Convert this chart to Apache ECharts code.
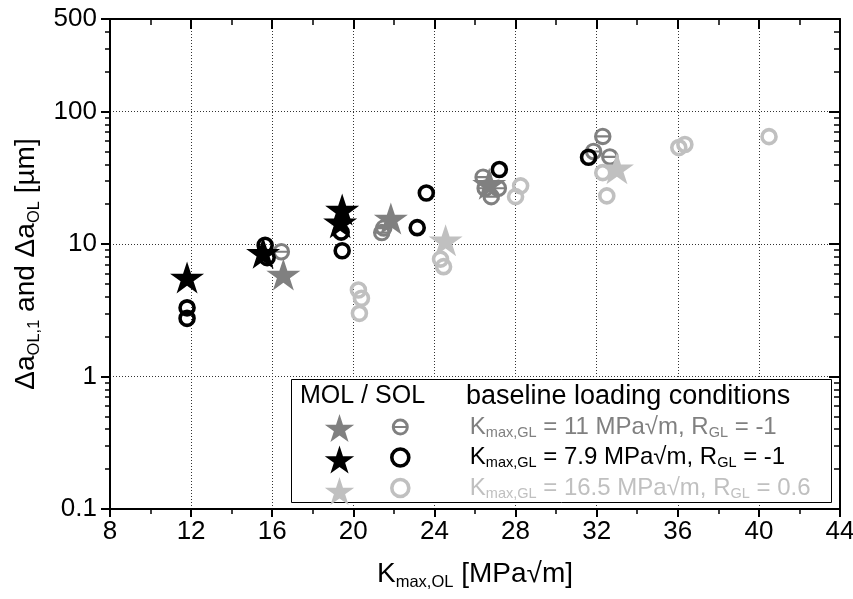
<!DOCTYPE html>
<html>
<head>
<meta charset="utf-8">
<script src="https://cdn.jsdelivr.net/npm/echarts@6/dist/echarts.min.js"></script>
<style>
  html, body { margin: 0; padding: 0; background: #fff; }
  #chart { width: 853px; height: 599px; }
</style>
</head>
<body>
<div id="chart"></div>
<script>
// x = K_max,OL [MPa√m], y = Δa [µm]
// stars = MOL (Δa_OL,1), rings = SOL (Δa_OL)
const molDark  = [[16.55, 5.9], [21.85, 15.6], [26.7, 28.5]];
const solDark  = [[16.45, 8.75], [21.4, 12.2], [21.5, 13.2], [26.4, 32.0], [26.5, 26.4],
                  [26.8, 22.8], [27.15, 26.4], [32.3, 65.0], [31.85, 50.0], [32.65, 45.5]];
const molBlack = [[11.8, 5.6], [15.55, 8.6], [19.45, 18.2], [19.35, 14.6]];
const solBlack = [[11.8, 3.3], [11.8, 2.75], [15.65, 9.8], [15.75, 7.9], [19.4, 12.3],
                  [19.45, 8.9], [23.15, 13.3], [23.6, 24.3], [27.2, 36.5], [31.6, 45.2]];
const molLight = [[24.55, 10.7], [33.0, 37.3]];
const solLight = [[20.25, 4.5], [20.4, 3.9], [20.3, 3.0], [24.3, 7.7], [24.45, 6.75],
                  [28.25, 27.5], [28.0, 22.8], [32.3, 34.6], [32.5, 23.1], [36.05, 53.5],
                  [36.35, 56.5], [40.5, 64.7]];

// legend rows: K_max,GL and R_GL of the baseline loading
const kmaxGL = ['11', '7.9', '16.5'];
const rGL = ['-1', '-1', '0.6'];
const colors = ['#808080', '#000000', '#c0c0c0'];

const yMinorTicks = [0.2, 0.3, 0.4, 0.5, 0.6, 0.7, 0.8, 0.9, 2, 3, 4, 5, 6, 7, 8, 9,
                     20, 30, 40, 50, 60, 70, 80, 90, 200, 300, 400];
const yMajorTicks = [0.1, 1, 10, 100];

const FONT = '"Liberation Sans", Arial, Helvetica, sans-serif';
const STAR = 'path://M50,0L61.23,34.55L97.55,34.55L68.16,55.9L79.39,90.45L50,69.1L20.61,90.45L31.84,55.9L2.45,34.55L38.77,34.55Z';
const RING_BAR = 'path://M0,10A10,10 0 1,1 20,10A10,10 0 1,1 0,10Z' +
  'M3.61,8.8L16.39,8.8A6.5,6.5 0 0,0 3.61,8.8Z' +
  'M16.39,11.2L3.61,11.2A6.5,6.5 0 0,0 16.39,11.2Z';

const YMIN = 0.1, YMAX = 500;
const lg = v => Math.log10(v);

const chart = echarts.init(document.getElementById('chart'), null, { renderer: 'canvas' });

const dot = { type: [1, 2], color: '#333', width: 1 };

function starSeries(name, data, color) {
  return { name, type: 'scatter', data, symbol: STAR, symbolSize: [34, 32],
    itemStyle: { color, opacity: 1 }, emphasis: { disabled: true } };
}
function ringSeries(name, data, color) {
  return { name, type: 'scatter', data, symbol: 'circle', symbolSize: 14,
    itemStyle: { color: 'rgba(0,0,0,0)', borderColor: color, borderWidth: 3.6, opacity: 1 },
    emphasis: { disabled: true } };
}

const rowNames = ['SOL 11', 'SOL 7.9', 'SOL 16.5'];
const rich = { g: { width: 56, lineHeight: 26, fontSize: 24 } };
colors.forEach((c, i) => {
  rich['m' + i] = { color: c, fontSize: 24, lineHeight: 26, fontFamily: FONT };
  rich['s' + i] = { color: c, fontSize: 14.5, lineHeight: 14, verticalAlign: 'bottom', fontFamily: FONT };
});

const titleRich = {
  m: { fontSize: 28, lineHeight: 33, color: '#000', fontFamily: FONT },
  s: { fontSize: 16.5, lineHeight: 16, verticalAlign: 'bottom', color: '#000', fontFamily: FONT }
};

const option = {
  animation: false,
  backgroundColor: '#fff',
  textStyle: { fontFamily: FONT },
  grid: { left: 110, right: 13, top: 19, bottom: 90, outerBoundsMode: 'none', containLabel: false },
  xAxis: [
    {
      type: 'value', min: 8, max: 44, interval: 4, position: 'bottom',
      axisLine: { show: true, onZero: false, lineStyle: { color: '#000', width: 2 } },
      axisTick: { show: true, length: 8, lineStyle: { color: '#000', width: 2 } },
      minorTick: { show: true, splitNumber: 2, length: 5, lineStyle: { color: '#000', width: 1.5 } },
      axisLabel: { color: '#000', fontSize: 26, fontFamily: FONT, margin: 10 },
      splitLine: { show: true, lineStyle: dot },
      name: '{m|K}{s|max,OL}{m| [MPa√m]}',
      nameLocation: 'middle', nameGap: 49,
      nameTextStyle: { rich: titleRich }
    },
    {
      type: 'value', min: 8, max: 44, interval: 4, position: 'top',
      axisLine: { show: true, onZero: false, lineStyle: { color: '#000', width: 2 } },
      axisTick: { show: true, inside: true, length: 10, lineStyle: { color: '#000', width: 2 } },
      minorTick: { show: true, splitNumber: 2, length: 6, lineStyle: { color: '#000', width: 1.5 } },
      axisLabel: { show: false }, splitLine: { show: false }
    }
  ],
  yAxis: [
    {
      type: 'log', logBase: 10, min: YMIN, max: YMAX, position: 'left',
      axisLine: { show: true, onZero: false, lineStyle: { color: '#000', width: 2 } },
      axisTick: { show: true, length: 9, lineStyle: { color: '#000', width: 2 } },
      axisLabel: { color: '#000', fontSize: 26, fontFamily: FONT, margin: 13,
        formatter: v => v < 1 ? v.toFixed(1) : String(Math.round(v)) },
      splitLine: { show: true, lineStyle: dot },
      name: '{m|Δa}{s|OL,1}{m| and Δa}{s|OL}{m| [µm]}',
      nameLocation: 'middle', nameGap: 64, nameRotate: 90,
      nameTextStyle: { rich: titleRich }
    },
    { // left minor ticks (log positions)
      type: 'value', min: lg(YMIN), max: lg(YMAX), position: 'left',
      axisLine: { show: false },
      axisTick: { show: true, length: 5, customValues: yMinorTicks.map(lg),
        lineStyle: { color: '#000', width: 1.5 } },
      axisLabel: { show: false }, splitLine: { show: false }
    },
    { // right axis, major ticks inward
      type: 'value', min: lg(YMIN), max: lg(YMAX), position: 'right',
      axisLine: { show: true, onZero: false, lineStyle: { color: '#000', width: 2 } },
      axisTick: { show: true, inside: true, length: 11, customValues: yMajorTicks.map(lg),
        lineStyle: { color: '#000', width: 2 } },
      axisLabel: { show: false }, splitLine: { show: false }
    },
    { // right axis, minor ticks inward
      type: 'value', min: lg(YMIN), max: lg(YMAX), position: 'right',
      axisLine: { show: false },
      axisTick: { show: true, inside: true, length: 6, customValues: yMinorTicks.map(lg),
        lineStyle: { color: '#000', width: 1.5 } },
      axisLabel: { show: false }, splitLine: { show: false }
    }
  ],
  legend: [
    {
      data: ['MOL 11', 'MOL 7.9', 'MOL 16.5'],
      orient: 'vertical', left: 324, top: 414, padding: 0, itemGap: 3.5,
      itemWidth: 31, itemHeight: 28, selectedMode: false,
      itemStyle: { borderWidth: 0 },
      formatter: () => '', z: 10
    },
    {
      data: [
        { name: rowNames[0], itemStyle: { borderWidth: 0 } },
        { name: rowNames[1] },
        { name: rowNames[2] }
      ],
      orient: 'vertical', left: 390, top: 415, padding: 0, itemGap: 5.5,
      itemWidth: 17, itemHeight: 17, selectedMode: false,
      itemStyle: { borderWidth: 3.6 },
      textStyle: { rich },
      formatter: name => {
        const i = rowNames.indexOf(name);
        return `{g| }{m${i}|K}{s${i}|max,GL}{m${i}| = ${kmaxGL[i]} MPa√m, R}{s${i}|GL}{m${i}| = ${rGL[i]}}`;
      },
      z: 10
    }
  ],
  graphic: [
    { type: 'rect', z: 5, shape: { x: 291.5, y: 379.5, width: 540, height: 123 },
      style: { fill: '#fff', stroke: '#000', lineWidth: 1 } },
    { type: 'text', z: 11, left: 300, top: 384,
      style: { text: 'MOL / SOL', fontSize: 25, fontFamily: FONT, fill: '#000' } },
    { type: 'text', z: 11, left: 466, top: 383,
      style: { text: 'baseline loading conditions', fontSize: 27, fontFamily: FONT, fill: '#000' } }
  ],
  series: [
    Object.assign(ringSeries('SOL 11', solDark, colors[0]),
      { symbol: RING_BAR, symbolSize: 17.5,
        itemStyle: { color: colors[0], borderWidth: 0, opacity: 1 } }),
    starSeries('MOL 11', molDark, colors[0]),
    ringSeries('SOL 16.5', solLight, colors[2]),
    starSeries('MOL 16.5', molLight, colors[2]),
    ringSeries('SOL 7.9', solBlack, colors[1]),
    starSeries('MOL 7.9', molBlack, colors[1])
  ]
};

chart.setOption(option);
</script>
</body>
</html>
